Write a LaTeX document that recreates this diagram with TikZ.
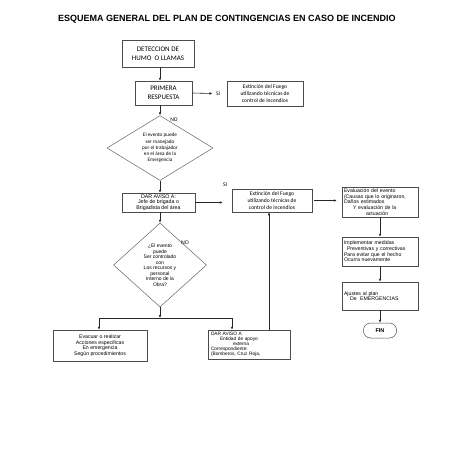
\documentclass[tikz,border=0pt]{standalone}
\usepackage{fontspec}
\setmainfont{Liberation Sans}
\newfontfamily\calib{Carlito}
\usetikzlibrary{shapes.geometric,arrows.meta}
\tikzset{
    caja/.style = {draw=black!70, line width=0.5pt, align=center, inner sep=1.5pt},
    rombo/.style = {draw=black!60, diamond, line width=0.5pt, align=center, inner sep=0pt},
    flecha/.style = {-{Latex[length=3pt,width=2.6pt]}, line width=0.6pt, draw=black!85},
    calgrande/.style = {font=\calib\fontsize{7}{9}\selectfont},
    calchica/.style = {font=\calib\fontsize{5.6}{6.6}\selectfont},
    arial/.style = {font=\fontsize{5.2}{5.6}\selectfont},
}

\begin{document}
\begin{tikzpicture}[x=1pt, y=-1pt]
    \useasboundingbox[fill=white] (0,0) rectangle (453,453);
    \coordinate (eje) at (160,0);
    \coordinate (subida) at (269,0);

    \node[font=\fontsize{9}{10}\selectfont\bfseries] (titulo) at (227,19) {ESQUEMA GENERAL DEL PLAN DE CONTINGENCIAS EN CASO DE INCENDIO};

    % columna izquierda
    \node[caja, calgrande, minimum width=72pt, minimum height=27pt] (deteccion) at (158,53.5) {DETECCION DE\\HUMO\ \ O LLAMAS};
    \node[caja, calgrande, minimum width=57pt, minimum height=24pt] (primera) at (163.5,93) {PRIMERA\\RESPUESTA};
    \node[calchica] (si1) at (218,93.5) {SI};
    \node[caja, calchica, minimum width=76pt, minimum height=25pt] (extincion1) at (265,93.5) {Extinción del Fuego\\utilizando técnicas de\\control de Incendios};

    \node[rombo, calchica, font=\calib\fontsize{5.2}{6.2}\selectfont, minimum width=106pt, minimum height=60pt] (evento1) at (160,148) {El evento puede\\ser manejado\\por el trabajador\\en el área de la\\Emergencia};
    \node[calchica] (no1) at (174,120) {NO};

    \node[caja, font=\fontsize{5.3}{5.4}\selectfont, minimum width=73pt, minimum height=19pt, inner ysep=1pt] (aviso1) at (158.5,202.5) {DAR AVISO A:\\Jefe de brigada o\\Brigadista del área};
    \node[calchica] (si2) at (225,185) {SI};
    \node[caja, calchica, minimum width=80pt, minimum height=23pt] (extincion2) at (272,200.5) {Extinción del Fuego\\utilizando técnicas de\\control de incendios};

    \node[rombo, arial, font=\fontsize{5}{5.5}\selectfont, minimum width=93pt, minimum height=84pt] (evento2) at (160,265) {¿El evento\\puede\\Ser controlado\\con\\Los recursos y\\personal\\Interno de la\\Obra?};
    \node[arial] (no2) at (185,243) {NO};
    \coordinate (cruce) at (160,318);
    \coordinate (bajada) at (232,318);

    \node[caja, arial, minimum width=94pt, minimum height=31pt] (evacuar) at (100,345.5) {Evacuar o realizar\\Acciones especificas\\En emergencia\\Según procedimientos};
    \node[caja, font=\fontsize{4.8}{5.1}\selectfont, text width=76pt, align=left, minimum height=29pt, inner xsep=3pt] (aviso2) at (249,344.5) {DAR AVISO A\\\hspace*{9pt}Entidad de apoyo\\\hspace*{22pt}externa\\Correspondiente:\\(Bomberos, Cruz Roja,};

    % columna derecha
    \node[caja, arial, text width=72pt, align=left, minimum height=30pt, inner xsep=2pt] (evaluacion) at (380,202) {Evaluación del evento\\(Causas que lo originaron,\\Daños estimados\\\hspace*{9pt}Y evaluación de la\\\hspace*{22pt}actuación};
    \node[caja, arial, text width=72pt, align=left, minimum height=29pt, inner xsep=2pt] (implementar) at (380,251.5) {Implementar medidas\\\hspace*{3pt}Preventivas y correctivas\\Para evitar que el hecho\\Ocurra nuevamente\\[1pt]};
    \node[caja, arial, text width=72pt, align=left, minimum height=28pt, inner xsep=2pt] (ajustes) at (380,296) {Ajustes al plan\\\hspace*{6pt}De\ \ EMERGENCIAS\\[6pt]};
    \node[caja, font=\fontsize{5.5}{6}\selectfont\bfseries, minimum width=33pt, minimum height=15pt, rounded corners=7pt] (fin) at (380,330.5) {FIN};

    \draw[flecha] (deteccion.south -| eje) -- (primera.north -| eje);
    \draw[flecha] (primera.east) -- (si1.west);
    \draw[flecha] (primera.south -| eje) -- (evento1.north);
    \draw[flecha] (evento1.south) -- (aviso1.north -| eje);
    \draw[flecha, shorten >=9pt] (aviso1.east) -- (aviso1.east -| extincion2.west);
    \draw[flecha, shorten <=2pt, shorten >=5pt] (extincion2.east) -- (extincion2.east -| evaluacion.west);
    \draw[flecha] (aviso1.south -| eje) -- (evento2.north);
    \draw[flecha] (evento2.south) -- (cruce);
    \draw[flecha] (cruce) -| ([xshift=-1pt]evacuar.north);
    \draw[flecha] (cruce) -- (bajada) -- (bajada |- aviso2.north);
    \draw[flecha] (aviso2.north -| subida) -- (extincion2.south -| subida);
    \draw[flecha] (evaluacion) -- (implementar);
    \draw[flecha] (implementar) -- (ajustes);
    \draw[flecha] (ajustes) -- (fin);

\end{tikzpicture}
\end{document}
